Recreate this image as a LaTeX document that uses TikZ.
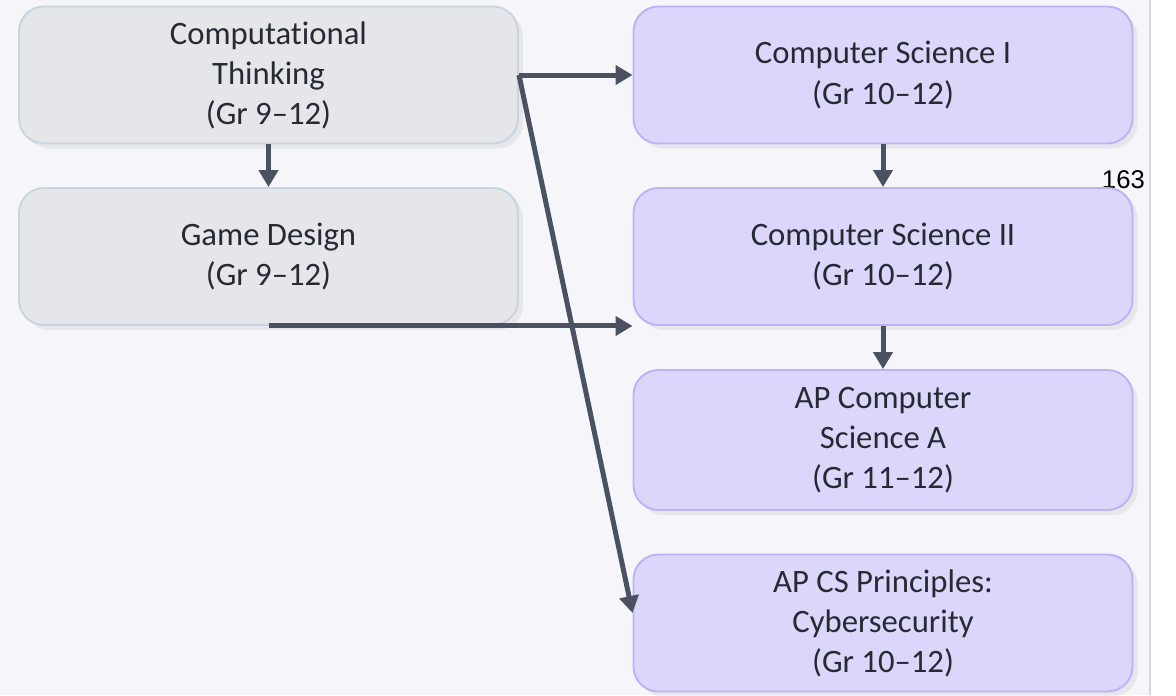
\documentclass[tikz,border=0pt]{standalone}
\usepackage{fontspec}
\setmainfont{Carlito}[Ligatures=NoCommon]
\newfontfamily\arialfont{Liberation Sans}
\usepackage{xcolor}
\usepackage{tikz}
\usetikzlibrary{shapes,arrows.meta,positioning,shadows,calc}

\definecolor{pagebg}{HTML}{F6F6FA}
\definecolor{edgeline}{HTML}{D6D6DC}
\definecolor{grayfill}{HTML}{E4E6EA}
\definecolor{graydraw}{HTML}{C9D4E0}
\definecolor{lilacfill}{HTML}{DCD6FB}
\definecolor{lilacdraw}{HTML}{BDB2F6}
\definecolor{flowcol}{HTML}{4A5261}
\definecolor{textcol}{HTML}{252A33}

\begin{document}
\begin{tikzpicture}[
  every node/.style={font=\fontsize{18.6}{22.8}\selectfont, text=textcol},
  course/.style={rounded corners=0.5cm, draw=graydraw, line width=1.1pt, fill=grayfill,
    minimum width=9.98cm, minimum height=2.74cm, align=center,
    execute at begin node={\rule{0pt}{23pt}},
    drop shadow={shadow xshift=0.1cm, shadow yshift=-0.1cm, opacity=0.12}},
  cscourse/.style={course, draw=lilacdraw, fill=lilacfill},
  flow/.style={-{Triangle[length=0.34cm, width=0.38cm]}, line width=0.1cm, draw=flowcol}
]

% Page
\useasboundingbox (0,0) rectangle (23.52,-13.9);
\fill[pagebg] (0,0) rectangle (23.0,-13.9);
\draw[edgeline, line width=0.8pt] (23.0,0) -- (23.0,-13.9);
\node[anchor=base east, font=\arialfont\fontsize{14.6}{16}\selectfont, text=black] (pagenum) at (23.02,-3.76) {163};

% Electives
\node[course] (compthink) at (5.37,-1.5) {Computational\\Thinking\\(Gr 9--12)};
\node[course] (gamedes) at (5.37,-5.13) {Game Design\\(Gr 9--12)};

% Core sequence
\node[cscourse] (csone) at (17.66,-1.5) {Computer Science I\\(Gr 10--12)};
\node[cscourse] (cstwo) at (17.66,-5.13) {Computer Science II\\(Gr 10--12)};
\node[cscourse, minimum height=2.8cm] (apcsa) at (17.66,-8.8) {AP Computer\\Science A\\(Gr 11--12)};
\node[cscourse] (apcsp) at (17.66,-12.46) {AP CS Principles:\\Cybersecurity\\(Gr 10--12)};

% Arrows
\draw[flow] (compthink.south) -- (gamedes.north);
\draw[flow] (compthink.east) -- (csone.west);
\draw[flow] (compthink.east) -- ([yshift=0.2cm]apcsp.west);
\draw[flow] (gamedes.south) -- (gamedes.south -| cstwo.west);
\draw[flow] (csone.south) -- (cstwo.north);
\draw[flow] (cstwo.south) -- (apcsa.north);

\end{tikzpicture}
\end{document}
